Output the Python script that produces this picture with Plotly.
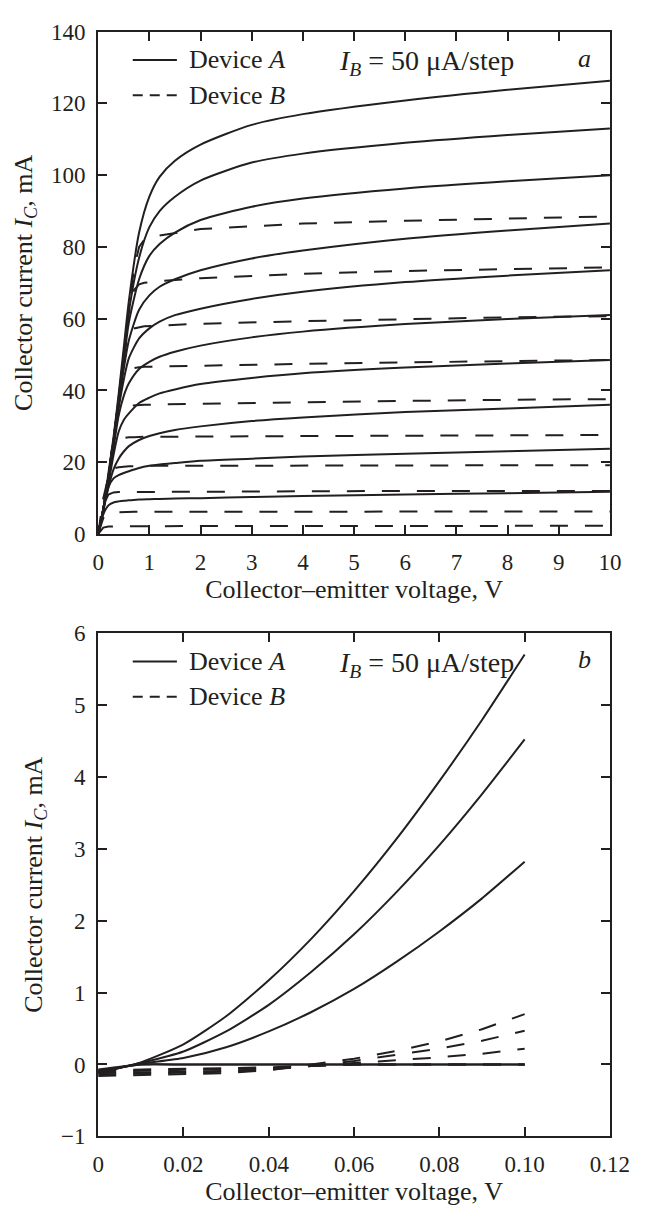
import plotly.graph_objects as go

# ---------------- Panel a data (V, mA) ----------------
VA = [0, 0.1, 0.2, 0.3, 0.4, 0.5, 0.6, 0.8, 1.0, 1.2, 1.5, 2, 3, 4, 6, 8, 10]
IA_a = [
    [0, 5.5, 8, 8.8, 9.1, 9.3, 9.4, 9.6, 9.7, 9.8, 9.9, 10.0, 10.3, 10.6, 11.0, 11.4, 11.8],
    [0, 7, 13, 15.5, 16.4, 17, 17.5, 18.4, 19.0, 19.4, 19.8, 20.4, 21.0, 21.6, 22.4, 23.1, 23.8],
    [0, 6.5, 13, 18, 21, 23, 24.5, 26.2, 27.3, 28.1, 29, 30, 31.5, 32.5, 34, 35, 36],
    [0, 6.5, 14, 22, 28.5, 31.8, 33.6, 36.5, 38, 39.2, 40.3, 41.8, 43.5, 44.8, 46.4, 47.5, 48.5],
    [0, 7, 15, 24, 33, 38.5, 42, 46, 48, 49.4, 50.8, 52.5, 54.8, 56.4, 58.5, 59.9, 61],
    [0, 7, 16, 25, 35, 43, 49, 54.5, 57.3, 59.2, 61, 62.8, 65.5, 67.5, 70.2, 72, 73.5],
    [0, 7, 16, 26, 36, 46, 54, 62.5, 66.5, 68.9, 71, 73.5, 76.8, 79, 82.3, 84.6, 86.5],
    [0, 7, 16, 26, 37, 48, 59, 71, 77.5, 80.8, 84, 87.5, 91.2, 93.5, 96.3, 98.3, 100],
    [0, 7, 16, 26, 38, 50, 62, 77, 85.5, 90, 94, 98.5, 103.5, 106, 109, 111.2, 113],
    [0, 7, 17, 27, 39, 52, 65, 84, 94, 99.5, 104, 108.5, 114, 117, 120.8, 123.8, 126.3],
]
VB = [0, 0.1, 0.2, 0.3, 0.4, 0.5, 0.6, 0.7, 0.8, 0.9, 1.2, 2, 4, 6, 8, 10]
IB_a = [
    [0, 1.8, 2.1, 2.2, 2.2, 2.2, 2.2, 2.2, 2.2, 2.2, 2.2, 2.2, 2.2, 2.3, 2.3, 2.3],
    [0, 4.5, 5.8, 6.1, 6.1, 6.2, 6.2, 6.2, 6.2, 6.2, 6.2, 6.2, 6.2, 6.3, 6.3, 6.3],
    [0, 8, 11, 11.6, 11.7, 11.7, 11.8, 11.8, 11.8, 11.8, 11.8, 11.9, 11.9, 12, 12, 12],
    [0, 10, 16, 18.3, 18.6, 18.8, 18.9, 18.9, 19, 19, 19, 19, 19.1, 19.1, 19.2, 19.2],
    [0, 7, 17, 24.5, 26.5, 26.8, 27, 27, 27.1, 27.1, 27.1, 27.2, 27.3, 27.4, 27.5, 27.6],
    [0, 7, 16, 27, 33.5, 35.5, 35.8, 35.9, 36, 36, 36.1, 36.3, 36.7, 37.1, 37.4, 37.6],
    [0, 7, 16, 26, 38, 44.5, 46, 46.3, 46.5, 46.6, 46.7, 46.9, 47.4, 47.9, 48.2, 48.5],
    [0, 7, 16, 26, 37, 50, 55.8, 57.3, 57.7, 57.9, 58.1, 58.6, 59.3, 59.9, 60.4, 60.7],
    [0, 7, 16, 26, 37, 50, 62, 68, 69.6, 70, 70.5, 71.3, 72.5, 73.3, 73.9, 74.3],
    [0, 7, 16, 26, 37, 50, 63, 74, 80, 82, 83.2, 85, 86.5, 87.3, 88, 88.5],
]

# ---------------- Panel b data (V, mA) ----------------
Vb = [0, 0.01, 0.02, 0.03, 0.04, 0.05, 0.06, 0.07, 0.08, 0.09, 0.10]
IA_b = [
    [-0.12, 0.03, 0.28, 0.67, 1.17, 1.75, 2.41, 3.14, 3.94, 4.79, 5.70],
    [-0.11, 0.02, 0.18, 0.46, 0.83, 1.29, 1.81, 2.40, 3.05, 3.76, 4.52],
    [-0.10, 0.01, 0.09, 0.24, 0.46, 0.73, 1.05, 1.43, 1.85, 2.31, 2.82],
    [-0.09, 0.0, 0.0, 0.0, 0.0, 0.0, 0.0, 0.0, 0.0, 0.0, 0.0],
    [-0.07, 0.0, 0.0, 0.0, 0.0, 0.0, 0.0, 0.0, 0.0, 0.0, 0.0],
]
IB_b = [
    [-0.16, -0.15, -0.14, -0.12, -0.08, 0.0, 0.08, 0.19, 0.32, 0.49, 0.70],
    [-0.14, -0.13, -0.12, -0.10, -0.07, -0.02, 0.05, 0.13, 0.22, 0.33, 0.47],
    [-0.12, -0.11, -0.10, -0.09, -0.06, -0.02, 0.01, 0.05, 0.10, 0.15, 0.22],
    [-0.10, -0.09, -0.08, -0.07, -0.05, -0.02, 0.0, 0.0, 0.0, 0.0, 0.0],
    [-0.08, -0.07, -0.06, -0.05, -0.04, -0.02, 0.0, 0.0, 0.0, 0.0, 0.0],
]

xticks_b = [0, 0.02, 0.04, 0.06, 0.08, 0.10, 0.12]
xticktext_b = ["0", "0.02", "0.04", "0.06", "0.08", "0.10", "0.12"]

INK = "#231f20"
FONT = "Liberation Serif"
DASH = "18px,17px"

fig = go.Figure()

for y in IA_a:
    fig.add_trace(go.Scatter(x=VA, y=y, mode="lines", xaxis="x", yaxis="y",
                             line=dict(color=INK, width=2, shape="spline", smoothing=0.7),
                             showlegend=False, hoverinfo="skip"))
for y in IB_a:
    fig.add_trace(go.Scatter(x=VB, y=y, mode="lines", xaxis="x", yaxis="y",
                             line=dict(color=INK, width=2, dash=DASH),
                             showlegend=False, hoverinfo="skip"))
for y in IA_b:
    fig.add_trace(go.Scatter(x=Vb, y=y, mode="lines", xaxis="x2", yaxis="y2",
                             line=dict(color=INK, width=2, shape="spline", smoothing=0.6),
                             showlegend=False, hoverinfo="skip"))
for y in IB_b:
    fig.add_trace(go.Scatter(x=Vb, y=y, mode="lines", xaxis="x2", yaxis="y2",
                             line=dict(color=INK, width=2, dash=DASH),
                             showlegend=False, hoverinfo="skip"))

axis_common = dict(showline=True, linewidth=2, linecolor=INK, mirror="ticks",
                   ticks="inside", ticklen=9, tickwidth=1.5, tickcolor=INK,
                   showgrid=False, zeroline=False, ticklabelstandoff=6,
                   tickfont=dict(family=FONT, size=23, color=INK))
title_font = dict(family=FONT, size=26, color=INK)
XDOM = [96 / 653, 629 / 653]
YDOM_A = [1 - 533 / 1217, 1 - 20 / 1217]
YDOM_B = [1 - 1148 / 1217, 1 - 634 / 1217]

fig.update_layout(
    width=653, height=1217,
    margin=dict(l=0, r=0, t=0, b=0),
    paper_bgcolor="white", plot_bgcolor="white",
    showlegend=False,
    xaxis=dict(domain=XDOM, anchor="y", range=[0, 10], dtick=1, tick0=0,
               title=dict(text="Collector–emitter voltage, V", font=title_font, standoff=6),
               **axis_common),
    yaxis=dict(domain=YDOM_A, anchor="x", range=[0, 140], dtick=20, tick0=0,
               title=dict(text="Collector current <i>I</i><sub><i>C</i></sub>, mA",
                          font=title_font, standoff=11),
               **axis_common),
    xaxis2=dict(domain=XDOM, anchor="y2", range=[0, 0.12], tickvals=xticks_b,
                ticktext=xticktext_b,
                title=dict(text="Collector–emitter voltage, V", font=title_font, standoff=6),
                **axis_common),
    yaxis2=dict(domain=YDOM_B, anchor="x2", range=[-1, 6], dtick=1, tick0=0,
                title=dict(text="Collector current <i>I</i><sub><i>C</i></sub>, mA",
                           font=title_font, standoff=11),
                **axis_common),
)

# Legends / labels drawn inside each panel
def panel_labels(xr, yr, letter):
    W, H = 533.0, 513.0
    def fx(px):
        return px / W
    def fy(py):
        return 1 - py / H
    fig.add_shape(type="line", xref=xr, yref=yr, x0=fx(36), x1=fx(82), y0=fy(29), y1=fy(29),
                  line=dict(color=INK, width=2))
    fig.add_shape(type="line", xref=xr, yref=yr, x0=fx(36), x1=fx(82), y0=fy(65), y1=fy(65),
                  line=dict(color=INK, width=2, dash="10px,7px"))
    tf = dict(family=FONT, size=26, color=INK)
    fig.add_annotation(xref=xr, yref=yr, x=fx(93), y=fy(29), text="Device <i>A</i>",
                       showarrow=False, xanchor="left", yanchor="middle", font=tf)
    fig.add_annotation(xref=xr, yref=yr, x=fx(93), y=fy(65), text="Device <i>B</i>",
                       showarrow=False, xanchor="left", yanchor="middle", font=tf)
    fig.add_annotation(xref=xr, yref=yr, x=fx(249), y=fy(32),
                       text="<i>I</i><sub><i>B</i></sub> = 50 μA/step",
                       showarrow=False, xanchor="left", yanchor="middle",
                       font=dict(family=FONT, size=28, color=INK))
    fig.add_annotation(xref=xr, yref=yr, x=fx(506), y=fy(27), text="<i>" + letter + "</i>",
                       showarrow=False, xanchor="center", yanchor="middle", font=tf)

panel_labels("x domain", "y domain", "a")
panel_labels("x2 domain", "y2 domain", "b")

fig.write_html("out.html")
